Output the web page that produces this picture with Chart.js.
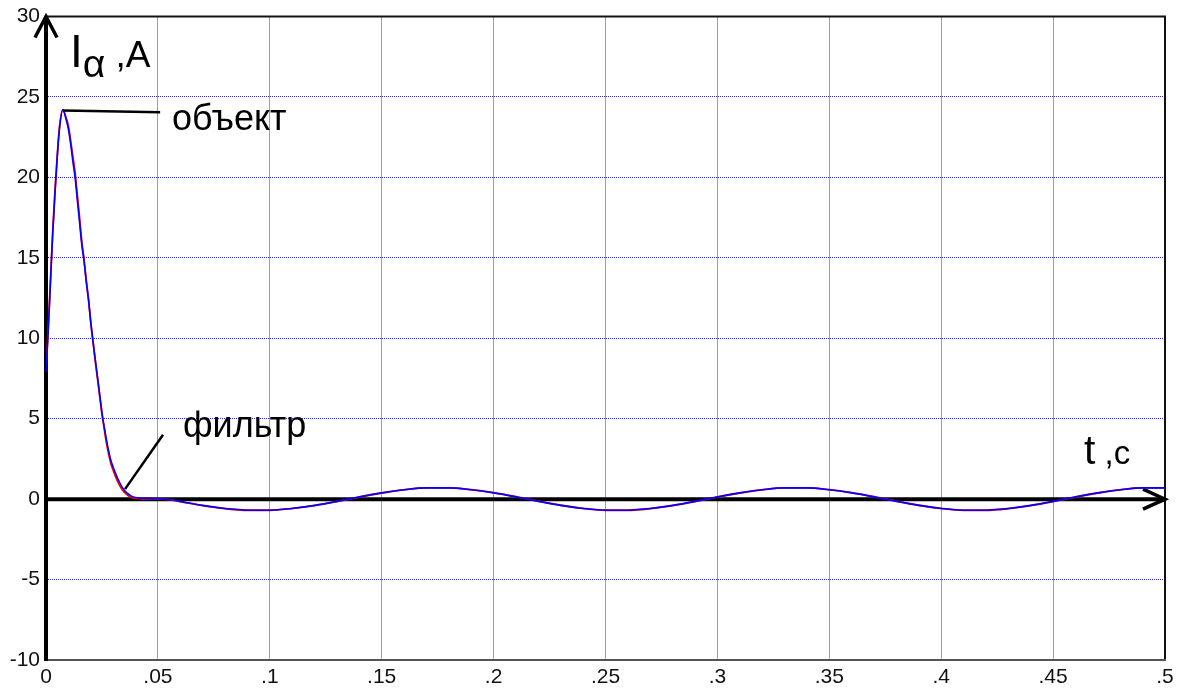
<!DOCTYPE html>
<html>
<head>
<meta charset="utf-8">
<script src="https://cdn.jsdelivr.net/npm/chart.js@4.4.1/dist/chart.umd.min.js"></script>
<style>
  body { margin: 0; background: #fff; }
  #wrap { width: 1181px; height: 691px; }
</style>
</head>
<body>
<div id="wrap"><canvas id="chart" width="1181" height="691"></canvas></div>
<script>
// time, s
var tSec = [0, 0.001, 0.002, 0.003, 0.004, 0.005, 0.006, 0.0075, 0.009,
  0.010, 0.011, 0.012, 0.013, 0.014, 0.015, 0.016, 0.017, 0.018, 0.019, 0.020,
  0.021, 0.022, 0.023, 0.024, 0.025, 0.026, 0.027, 0.028, 0.029, 0.030,
  0.032, 0.034, 0.036, 0.038, 0.040, 0.045, 0.050, 0.055,
  0.06, 0.07, 0.08, 0.09, 0.10, 0.11, 0.12, 0.13, 0.14, 0.15,
  0.16, 0.17, 0.18, 0.19, 0.20, 0.21, 0.22, 0.23, 0.24, 0.25,
  0.26, 0.27, 0.28, 0.29, 0.30, 0.31, 0.32, 0.33, 0.34, 0.35,
  0.36, 0.37, 0.38, 0.39, 0.40, 0.41, 0.42, 0.43, 0.44, 0.45,
  0.46, 0.47, 0.48, 0.49, 0.50];

// I alpha, A - filter output (blue)
var filterAmps = [7.9, 10.5, 13.5, 16.5, 19.0, 21.2, 23.0, 24.2, 23.6,
  23.0, 22.1, 21.0, 20.0, 18.6, 17.2, 15.8, 14.8, 13.5, 12.4, 11.0,
  9.8, 8.7, 7.6, 6.5, 5.4, 4.5, 3.7, 3.0, 2.4, 2.0,
  1.3, 0.75, 0.4, 0.2, 0.1, 0.05, 0.02, -0.02,
  -0.14, -0.39, -0.58, -0.69, -0.69, -0.58, -0.39, -0.14, 0.14, 0.39,
  0.58, 0.70, 0.70, 0.58, 0.39, 0.14, -0.14, -0.39, -0.58, -0.69,
  -0.69, -0.58, -0.39, -0.14, 0.14, 0.39, 0.58, 0.70, 0.70, 0.58,
  0.39, 0.14, -0.14, -0.39, -0.58, -0.69, -0.69, -0.58, -0.39, -0.14,
  0.14, 0.39, 0.58, 0.70, 0.70];

// I alpha, A - object (red)
var objectAmps = [7.9, 10.6, 13.6, 16.6, 19.1, 21.3, 23.1, 24.2, 23.7,
  23.2, 22.3, 21.3, 20.3, 18.9, 17.5, 16.0, 14.9, 13.6, 12.4, 11.0,
  9.8, 8.6, 7.5, 6.4, 5.3, 4.4, 3.5, 2.8, 2.2, 1.8,
  1.1, 0.6, 0.3, 0.12, 0.05, 0.02, 0.0, -0.03,
  -0.15, -0.40, -0.59, -0.69, -0.69, -0.58, -0.40, -0.15, 0.13, 0.38,
  0.58, 0.70, 0.70, 0.59, 0.40, 0.15, -0.13, -0.38, -0.58, -0.69,
  -0.69, -0.59, -0.40, -0.15, 0.13, 0.38, 0.58, 0.70, 0.70, 0.59,
  0.40, 0.15, -0.13, -0.38, -0.58, -0.69, -0.69, -0.59, -0.40, -0.15,
  0.13, 0.38, 0.58, 0.70, 0.70];

var yMin = -10, yMax = 30, yStep = 5;
var xMin = 0, xMax = 0.5, xStep = 0.05;

function pts(vals) {
  return tSec.map(function(t, i) { return { x: t, y: vals[i] }; });
}

function fmtX(v) {
  if (Math.abs(v) < 1e-9) return '0';
  return String(Math.round(v * 100) / 100).replace(/^0\./, '.');
}

var FONT = "'Liberation Sans', Arial, sans-serif";

function font(size) { return size + 'px ' + FONT; }

function drawParts(ctx, x, y, parts) {
  ctx.textAlign = 'left';
  ctx.textBaseline = 'alphabetic';
  parts.forEach(function(p) {
    ctx.font = font(p.size);
    ctx.fillText(p.text, x, y + (p.dy || 0));
    x += ctx.measureText(p.text).width;
  });
}

var axesPlugin = {
  id: 'axesPlugin',
  beforeDatasetsDraw: function(chart) {
    var ctx = chart.ctx, a = chart.chartArea;
    var y0 = chart.scales.y.getPixelForValue(0);
    var x0 = chart.scales.x.getPixelForValue(0);
    ctx.save();
    // frame
    ctx.strokeStyle = '#111';
    ctx.lineWidth = 2;
    ctx.beginPath();
    ctx.moveTo(a.left, a.top); ctx.lineTo(a.right, a.top); ctx.lineTo(a.right, a.bottom);
    ctx.stroke();
    ctx.strokeStyle = '#555';
    ctx.beginPath();
    ctx.moveTo(a.left, a.bottom); ctx.lineTo(a.right + 1, a.bottom);
    ctx.stroke();
    // left axis with arrow
    ctx.strokeStyle = '#000';
    ctx.lineWidth = 4;
    ctx.beginPath();
    ctx.moveTo(x0, a.bottom + 1); ctx.lineTo(x0, a.top);
    ctx.stroke();
    ctx.lineWidth = 3.5;
    ctx.beginPath();
    ctx.moveTo(x0 - 11, a.top + 21); ctx.lineTo(x0, a.top); ctx.lineTo(x0 + 11, a.top + 21);
    ctx.stroke();
    // zero axis with arrow
    ctx.lineWidth = 4;
    ctx.beginPath();
    ctx.moveTo(a.left - 2, y0); ctx.lineTo(a.right, y0);
    ctx.stroke();
    ctx.lineWidth = 3.5;
    ctx.beginPath();
    ctx.moveTo(a.right - 22, y0 - 10); ctx.lineTo(a.right, y0); ctx.lineTo(a.right - 22, y0 + 10);
    ctx.stroke();
    ctx.restore();
  },
  afterDatasetsDraw: function(chart) {
    var ctx = chart.ctx, sx = chart.scales.x, sy = chart.scales.y;
    ctx.save();
    ctx.fillStyle = '#000';
    ctx.strokeStyle = '#000';
    ctx.lineWidth = 2.5;
    // leader to "объект"
    ctx.beginPath();
    ctx.moveTo(sx.getPixelForValue(0.0076), sy.getPixelForValue(24.15));
    ctx.lineTo(sx.getPixelForValue(0.051), sy.getPixelForValue(24.05));
    ctx.stroke();
    // leader to "фильтр"
    ctx.beginPath();
    ctx.moveTo(sx.getPixelForValue(0.0353), sy.getPixelForValue(0.62));
    ctx.lineTo(sx.getPixelForValue(0.0523), sy.getPixelForValue(4.0));
    ctx.stroke();

    drawParts(ctx, sx.getPixelForValue(0.0563), sy.getPixelForValue(22.96), [{ text: 'объект', size: 36 }]);
    drawParts(ctx, sx.getPixelForValue(0.0612), sy.getPixelForValue(3.89), [{ text: 'фильтр', size: 36 }]);
    drawParts(ctx, sx.getPixelForValue(0.0107), sy.getPixelForValue(26.85), [
      { text: 'I', size: 46 }, { text: 'α', size: 39, dy: 10 }, { text: ' ,A', size: 37 }
    ]);
    drawParts(ctx, sx.getPixelForValue(0.4638), sy.getPixelForValue(2.16), [
      { text: 't', size: 41 }, { text: ' ,c', size: 33 }
    ]);
    ctx.restore();
  }
};

var gridColor = '#2a2aff';

new Chart(document.getElementById('chart'), {
  type: 'line',
  data: {
    datasets: [
      { label: 'фильтр', data: pts(filterAmps), borderColor: '#0000ff', borderWidth: 1.6,
        pointRadius: 0, cubicInterpolationMode: 'monotone', fill: false },
      { label: 'объект', data: pts(objectAmps), borderColor: '#ff0000', borderWidth: 1.8,
        pointRadius: 0, cubicInterpolationMode: 'monotone', fill: false }
    ]
  },
  options: {
    responsive: false,
    devicePixelRatio: 1,
    animation: false,
    layout: { padding: { top: 12, right: 16, left: 0, bottom: 0 } },
    plugins: { legend: { display: false }, tooltip: { enabled: false } },
    scales: {
      x: {
        type: 'linear', min: xMin, max: xMax,
        afterFit: function(s) { s.height = 31; },
        ticks: { stepSize: xStep, callback: fmtX, color: '#111', padding: 7,
          font: { family: FONT, size: 21, lineHeight: 1 }, maxRotation: 0, autoSkip: false },
        grid: { color: gridColor, lineWidth: 1, drawTicks: false },
        border: { display: false, dash: [1, 1] }
      },
      y: {
        min: yMin, max: yMax,
        afterFit: function(s) { s.width = 46; },
        ticks: { stepSize: yStep, color: '#111', padding: 6,
          font: { family: FONT, size: 21, lineHeight: 1 } },
        grid: { color: gridColor, lineWidth: 1, drawTicks: false },
        border: { display: false, dash: [1, 1] }
      }
    }
  },
  plugins: [axesPlugin]
});
</script>
</body>
</html>
